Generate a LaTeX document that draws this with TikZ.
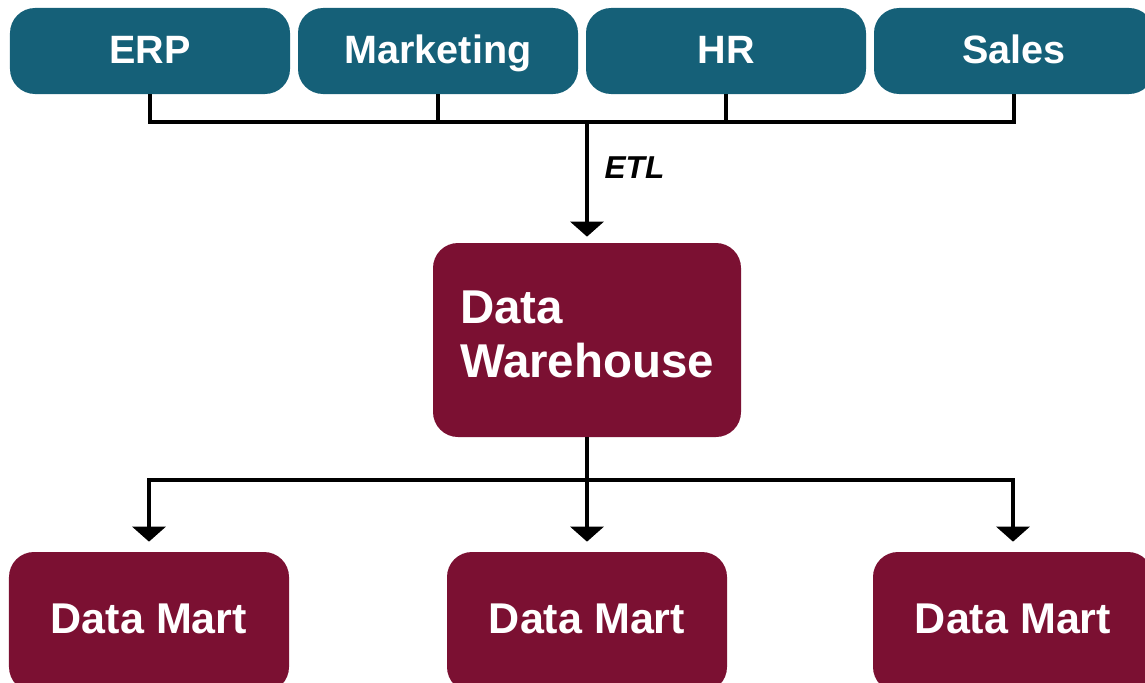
\documentclass[tikz,border=0pt]{standalone}
\usepackage{fontspec}
\setmainfont{Liberation Sans}
\usetikzlibrary{arrows.meta}
\definecolor{SrcTeal}{HTML}{156078}
\definecolor{WhMaroon}{HTML}{7B1032}

\tikzset{
  srcbox/.style={fill=SrcTeal,rounded corners=0.5cm,minimum width=5.6cm,minimum height=1.72cm,
    text height=0.72cm,text depth=0.24cm,
    text=white,font=\fontsize{22.5}{26}\selectfont\bfseries},
  whbox/.style={fill=WhMaroon,rounded corners=0.5cm,minimum width=6.16cm,minimum height=3.88cm,
    text height=0.7cm,text depth=1.38cm,
    text=white,align=left,text width=5.08cm,font=\fontsize{27}{31}\selectfont\bfseries},
  martbox/.style={fill=WhMaroon,rounded corners=0.5cm,minimum width=5.6cm,minimum height=2.8cm,
    text height=0.72cm,text depth=0.28cm,
    text=white,font=\fontsize{24.5}{28}\selectfont\bfseries},
  link/.style={line width=0.07cm,black},
  flow/.style={link,-{Triangle[width=0.66cm,length=0.3cm]}}
}

\begin{document}
\begin{tikzpicture}[x=1cm,y=1cm]
\useasboundingbox (0,0) rectangle (22.90,13.64);
\clip (0,0) rectangle (22.90,13.64);
% sources
\node[srcbox] (erp) at (3.00,12.62) {ERP};
\node[srcbox] (mkt) at (8.76,12.62) {Marketing};
\node[srcbox] (hr) at (14.52,12.62) {HR};
\node[srcbox] (sales) at (20.28,12.62) {Sales};
\coordinate (bus) at (11.74,11.20);
\draw[link] (erp.south) |- (bus) -| (sales.south);
\draw[link] (mkt.south) -- (mkt.south |- bus);
\draw[link] (hr.south) -- (hr.south |- bus);
% warehouse
\node[whbox] (dw) at (11.74,6.84) {Data\\Warehouse};
\draw[flow,shorten >=0.12cm] (bus) -- (dw.north)
  node[pos=0.38,right=0.2cm,text=black,font=\fontsize{18}{20}\selectfont\bfseries\itshape] (etl) {ETL};
% marts
\node[martbox] (martA) at (2.98,1.20) {Data Mart};
\node[martbox] (martB) at (11.74,1.20) {Data Mart};
\node[martbox] (martC) at (20.26,1.20) {Data Mart};
\coordinate (split) at (11.74,4.04);
\draw[link] (dw.south) -- (split);
\draw[flow,shorten >=0.2cm] (split) -| (martA.north);
\draw[flow,shorten >=0.2cm] (split) -- (martB.north);
\draw[flow,shorten >=0.2cm] (split) -| (martC.north);
\end{tikzpicture}
\end{document}
